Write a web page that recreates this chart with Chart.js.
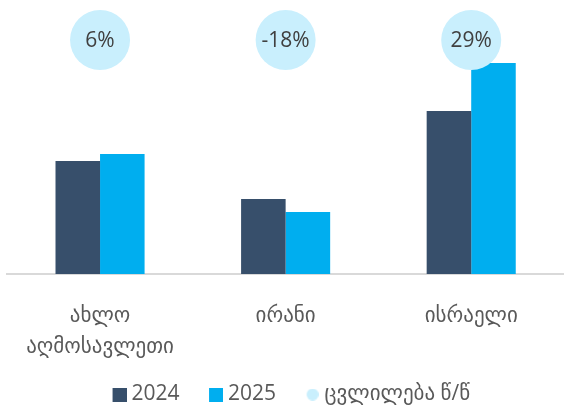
<!DOCTYPE html>
<html><head><meta charset="utf-8">
<script src="https://cdn.jsdelivr.net/npm/chart.js@4/dist/chart.umd.min.js"></script>
<style>html,body{margin:0;padding:0;background:#fff}</style>
</head><body>
<canvas id="c" width="564" height="410"></canvas>
<script>
// ---- data ----
const categories = [['ახლო', 'აღმოსავლეთი'], 'ირანი', 'ისრაელი'];
const seriesNames = ['2024', '2025', 'ცვლილება წ/წ'];
const values2024 = [113, 75, 163];
const values2025 = [120, 62, 211];
const changePct = [6, -18, 29];

// ---- styling ----
const COL_2024 = '#374F6B';
const COL_2025 = '#00AEEF';
const COL_BUBBLE = '#C9EFFD';
const FONT = "'Open Sans', 'DejaVu Sans', sans-serif";
const LEG_FONT = 21;
const LEG_BOX = 26;
const Y_MAX = 269;
const BUBBLE_LEVEL = 0.87;
const X_AXIS_HEIGHT = 98;

// legend icon: canvas centred at hitbox x + LEG_BOX/2, shape placed at its right end
function legendIcon(color, size, gapToText, round) {
  const W = Math.round(LEG_BOX + LEG_FONT - 2 * gapToText);
  const c = document.createElement('canvas'); c.width = W; c.height = size;
  const g = c.getContext('2d'); g.fillStyle = color;
  if (round) { g.beginPath(); g.arc(W - size / 2, size / 2, size / 2, 0, Math.PI * 2); g.fill(); }
  else g.fillRect(W - size, 0, size, size);
  return c;
}
const legendIcons = [legendIcon(COL_2024, 14, 5, false), legendIcon(COL_2025, 14, 5, false), legendIcon(COL_BUBBLE, 12, 6, true)];

const bubbleLabels = {
  id: 'bubbleLabels',
  afterDatasetsDraw(chart) {
    const meta = chart.getDatasetMeta(2);
    const ctx = chart.ctx;
    ctx.save();
    ctx.font = '21px ' + FONT;
    ctx.fillStyle = '#404040';
    ctx.textAlign = 'center';
    ctx.textBaseline = 'middle';
    meta.data.forEach((pt, i) => {
      ctx.fillText(changePct[i] + '%', pt.x, pt.y + 1);
    });
    ctx.restore();
  }
};

new Chart(document.getElementById('c'), {
  type: 'bar',
  data: {
    labels: categories,
    datasets: [
      { label: seriesNames[0], data: values2024, backgroundColor: COL_2024, order: 1, yAxisID: 'y' },
      { label: seriesNames[1], data: values2025, backgroundColor: COL_2025, order: 1, yAxisID: 'y' },
      { label: seriesNames[2], type: 'line', data: changePct.map(() => BUBBLE_LEVEL), showLine: false,
        pointRadius: 30, pointHoverRadius: 30, pointBackgroundColor: COL_BUBBLE, pointBorderWidth: 0,
        borderColor: COL_BUBBLE, backgroundColor: COL_BUBBLE, order: 0, yAxisID: 'y2' }
    ]
  },
  options: {
    responsive: false,
    animation: false,
    events: [],
    layout: { autoPadding: false, padding: { left: 1, right: 0, top: 5, bottom: -5 } },
    datasets: { bar: { categoryPercentage: 0.48, barPercentage: 1.0, borderWidth: 0 } },
    scales: {
      x: {
        grid: { display: false, drawTicks: false },
        border: { display: true, color: '#D9D9D9', width: 2 },
        ticks: { color: '#595959', font: { family: FONT, size: 21, lineHeight: 1.5 }, padding: 26, maxRotation: 0, autoSkip: false },
        afterFit(scale) { scale.height = X_AXIS_HEIGHT; }
      },
      y: { display: false, min: 0, max: Y_MAX },
      y2: { display: false, min: 0, max: 1 }
    },
    plugins: {
      tooltip: { enabled: false },
      legend: {
        position: 'bottom',
        labels: {
          color: '#595959',
          font: { family: FONT, size: LEG_FONT },
          usePointStyle: true,
          pointStyleWidth: LEG_BOX,
          padding: 12,
          generateLabels(chart) {
            const items = Chart.defaults.plugins.legend.labels.generateLabels(chart);
            items.forEach(it => { it.pointStyle = legendIcons[it.datasetIndex]; });
            return items.sort((a, b) => a.datasetIndex - b.datasetIndex);
          }
        }
      }
    }
  },
  plugins: [bubbleLabels]
});
</script>
</body></html>
